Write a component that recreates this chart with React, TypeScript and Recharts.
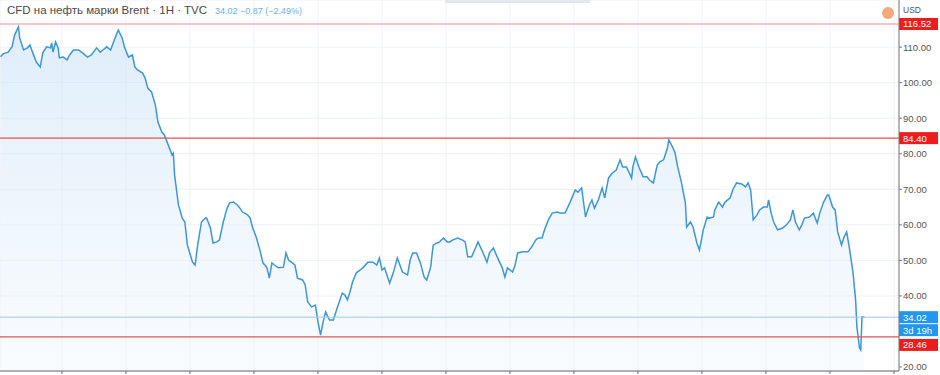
import React from "react";
import {
  ComposedChart,
  Area,
  XAxis,
  YAxis,
  CartesianGrid,
  ReferenceLine,
} from "recharts";

// time in fractional years
const times = [
  2013.52, 2013.54, 2013.58, 2013.61, 2013.63, 2013.66, 2013.67, 2013.7, 2013.73, 2013.75,
  2013.77, 2013.8, 2013.83, 2013.85, 2013.88, 2013.91, 2013.92, 2013.93, 2013.95, 2013.97,
  2013.98, 2014.01, 2014.04, 2014.06, 2014.09, 2014.13, 2014.16, 2014.2, 2014.23, 2014.27,
  2014.3, 2014.32, 2014.35, 2014.38, 2014.4, 2014.43, 2014.44, 2014.47, 2014.49, 2014.52,
  2014.55, 2014.57, 2014.59, 2014.63, 2014.65, 2014.67, 2014.7, 2014.73, 2014.75, 2014.78,
  2014.8, 2014.83, 2014.86, 2014.87, 2014.88, 2014.91, 2014.94, 2014.96, 2014.98, 2015.02,
  2015.04, 2015.06, 2015.09, 2015.12, 2015.13, 2015.16, 2015.18, 2015.21, 2015.23, 2015.26,
  2015.29, 2015.31, 2015.34, 2015.37, 2015.39, 2015.41, 2015.45, 2015.47, 2015.49, 2015.52,
  2015.55, 2015.57, 2015.6, 2015.62, 2015.64, 2015.66, 2015.69, 2015.73, 2015.75, 2015.77,
  2015.8, 2015.82, 2015.84, 2015.88, 2015.9, 2015.92, 2015.95, 2015.98, 2016.0, 2016.02,
  2016.04, 2016.06, 2016.09, 2016.12, 2016.15, 2016.19, 2016.21, 2016.23, 2016.25, 2016.27,
  2016.3, 2016.33, 2016.35, 2016.39, 2016.43, 2016.46, 2016.48, 2016.5, 2016.52, 2016.56,
  2016.59, 2016.62, 2016.64, 2016.66, 2016.7, 2016.72, 2016.74, 2016.77, 2016.8, 2016.83,
  2016.85, 2016.88, 2016.9, 2016.93, 2016.95, 2016.98, 2017.01, 2017.03, 2017.05, 2017.09,
  2017.13, 2017.15, 2017.17, 2017.2, 2017.23, 2017.25, 2017.28, 2017.32, 2017.34, 2017.37,
  2017.4, 2017.44, 2017.46, 2017.48, 2017.52, 2017.54, 2017.56, 2017.6, 2017.64, 2017.67,
  2017.7, 2017.72, 2017.75, 2017.77, 2017.8, 2017.83, 2017.87, 2017.89, 2017.93, 2017.97,
  2018.01, 2018.03, 2018.06, 2018.09, 2018.12, 2018.14, 2018.16, 2018.19, 2018.22, 2018.24,
  2018.27, 2018.3, 2018.33, 2018.36, 2018.38, 2018.41, 2018.45, 2018.46, 2018.48, 2018.51,
  2018.54, 2018.57, 2018.59, 2018.62, 2018.65, 2018.67, 2018.7, 2018.73, 2018.74, 2018.77,
  2018.79, 2018.81, 2018.84, 2018.87, 2018.88, 2018.91, 2018.93, 2018.96, 2018.98, 2019.01,
  2019.04, 2019.06, 2019.09, 2019.1, 2019.13, 2019.16, 2019.18, 2019.22, 2019.24, 2019.27,
  2019.31, 2019.34, 2019.36, 2019.38, 2019.4, 2019.43, 2019.45, 2019.48, 2019.51, 2019.52,
  2019.54, 2019.56, 2019.59, 2019.63, 2019.66, 2019.69, 2019.71, 2019.73, 2019.76, 2019.78,
  2019.8, 2019.84, 2019.87, 2019.9, 2019.92, 2019.95, 2019.98, 2019.99, 2020.02, 2020.04,
  2020.06, 2020.09, 2020.11, 2020.13, 2020.15, 2020.18, 2020.2, 2020.21, 2020.23, 2020.24,
  2020.25, 2020.27,
];

const prices = [
  107.3, 108.1, 108.6, 110.1, 113.4, 115.7, 112.6, 109.2, 109.8, 110.6,
  108.6, 105.8, 104.4, 108.4, 110.1, 109.8, 111.2, 108.6, 111.5, 109.8,
  107.0, 107.2, 106.4, 107.8, 109.2, 109.2, 108.4, 107.2, 107.8, 109.8,
  108.6, 109.2, 110.1, 109.2, 111.2, 114.0, 114.8, 112.6, 109.8, 107.2,
  107.8, 104.4, 103.6, 102.7, 101.3, 98.5, 97.4, 93.7, 88.9, 86.1,
  85.3, 82.5, 79.7, 80.2, 74.0, 65.6, 61.9, 60.8, 54.3, 49.5,
  48.7, 54.3, 60.8, 61.9, 61.9, 59.1, 54.9, 55.2, 55.7, 60.8,
  64.7, 66.2, 66.4, 65.6, 64.7, 63.6, 62.8, 61.9, 59.1, 56.3,
  52.4, 49.3, 48.1, 45.0, 49.3, 48.7, 47.9, 48.1, 52.1, 50.1,
  49.3, 48.7, 45.0, 44.5, 43.1, 38.3, 36.9, 37.4, 32.7, 29.0,
  32.7, 35.5, 33.2, 33.2, 36.6, 40.8, 40.3, 38.9, 41.1, 43.9,
  46.5, 47.3, 47.9, 49.5, 49.5, 48.7, 50.7, 47.3, 47.9, 43.6,
  46.7, 50.7, 48.7, 46.7, 45.9, 50.1, 52.1, 52.1, 49.3, 45.3,
  44.5, 48.1, 54.3, 54.9, 55.2, 56.3, 55.2, 55.2, 55.7, 56.3,
  55.7, 55.2, 51.0, 51.0, 53.5, 55.2, 52.9, 49.5, 52.1, 53.5,
  51.0, 47.9, 45.3, 47.9, 46.7, 48.7, 52.1, 52.4, 52.4, 53.8,
  55.7, 56.3, 56.3, 58.6, 61.4, 63.3, 63.6, 63.3, 63.3, 66.4,
  69.8, 69.2, 70.4, 62.2, 65.6, 67.0, 64.7, 67.0, 70.4, 67.6,
  73.2, 74.6, 75.4, 78.3, 76.3, 76.3, 73.2, 76.3, 79.1, 76.0,
  73.5, 73.5, 72.6, 71.8, 76.8, 77.7, 78.3, 81.6, 83.9, 81.9,
  80.2, 76.3, 71.8, 66.2, 59.4, 60.8, 59.4, 54.9, 52.9, 58.6,
  62.2, 61.9, 62.2, 64.2, 66.4, 65.0, 66.4, 67.6, 69.8, 71.8,
  71.5, 70.7, 71.8, 69.8, 61.4, 62.8, 64.2, 65.0, 65.0, 67.0,
  63.3, 60.8, 58.6, 59.1, 60.0, 61.4, 64.2, 60.8, 58.6, 60.0,
  61.9, 62.2, 63.3, 60.5, 63.3, 66.4, 68.4, 68.4, 65.0, 64.2,
  58.0, 54.3, 56.6, 58.0, 53.8, 46.5, 38.9, 31.3, 25.4, 24.8,
  34.1, 34.02,
];

const yTicks = [20, 40, 50, 60, 70, 80, 90, 100, 110];
const xTicks = [2014, 2014.5, 2015, 2015.5, 2016, 2016.5, 2017, 2017.5, 2018, 2018.5, 2019, 2019.5, 2020, 2020.5];

const redLevels = [116.52, 84.4, 28.46];
const lastPrice = 34.02;
const countdown = "3d 19h";

const data = times.map((t, i) => ({ t, price: prices[i] }));

const FONT = "'Liberation Sans', Arial, sans-serif";

// price tag drawn on the right scale; shift moves the box off its line when tags collide
const priceTag = (value: number, color: string, shift = 0, extra?: string) => (props: any) => {
  const vb = props.viewBox || {};
  const x = (vb.x || 0) + (vb.width || 0);
  const y = (vb.y || 0) + shift;
  return (
    <g>
      <rect x={x} y={y - 6} width={39} height={12} fill={color} />
      <text x={x + 4} y={y + 3.5} fill="#fff" fontSize={9.5} fontFamily={FONT}>
        {value.toFixed(2)}
      </text>
      {extra && (
        <g>
          <rect x={x} y={y + 7} width={39} height={12} fill={color} />
          <text x={x + 4} y={y + 16.5} fill="#fff" fontSize={9.5} fontFamily={FONT}>
            {extra}
          </text>
        </g>
      )}
    </g>
  );
};

export default function App() {
  return (
    <div style={{ position: "absolute", left: 0, top: 0, width: 940, height: 375, background: "#fff", overflow: "hidden" }}>
      <ComposedChart
        width={940}
        height={375}
        data={data}
        margin={{ top: 0, right: 0, bottom: 0, left: 0 }}
      >
        <defs>
          <linearGradient id="fillBlue" x1="0" y1="0" x2="0" y2="1">
            <stop offset="0%" stopColor="#c6e0f6" stopOpacity={0.95} />
            <stop offset="100%" stopColor="#eef6fd" stopOpacity={0.6} />
          </linearGradient>
        </defs>
        <CartesianGrid stroke="#eef1f6" />
        <XAxis
          dataKey="t"
          type="number"
          domain={[2013.516, 2020.539]}
          ticks={xTicks}
          allowDataOverflow
          height={4}
          tickSize={3}
          tickFormatter={() => ""}
          axisLine={{ stroke: "#666" }}
          tickLine={{ stroke: "#666" }}
        />
        <YAxis
          orientation="right"
          type="number"
          domain={[18.87, 123.27]}
          allowDataOverflow
          ticks={yTicks}
          width={41}
          tickSize={3}
          tickMargin={1}
          tickFormatter={(v: number) => v.toFixed(2)}
          axisLine={{ stroke: "#777" }}
          tickLine={{ stroke: "#777" }}
          tick={{ fontSize: 9.5, fill: "#555", fontFamily: FONT, textAnchor: "start" }}
        />
        <Area
          type="linear"
          dataKey="price"
          stroke="#3d96dc"
          strokeWidth={1.5}
          strokeLinecap="butt"
          fill="url(#fillBlue)"
          isAnimationActive={false}
          dot={false}
          activeDot={false}
        />
        <ReferenceLine
          y={lastPrice}
          stroke="#9fc9ee"
          strokeWidth={1}
          label={priceTag(lastPrice, "#2196f3", 0, countdown)}
        />
        {redLevels.map((lv) => (
          <ReferenceLine
            key={lv}
            y={lv}
            stroke={lv > 100 ? "#ef8f8f" : "#e05353"}
            strokeWidth={1.2}
            label={priceTag(lv, "#ee1c1c", lv < 30 ? 8 : 0)}
          />
        ))}
      </ComposedChart>
      <div
        style={{
          position: "absolute",
          left: 7,
          top: 4,
          fontFamily: FONT,
          fontSize: 11.5,
          color: "#4a4a4a",
          whiteSpace: "nowrap",
        }}
      >
        CFD на нефть марки Brent · 1H · TVC
        <span style={{ color: "#6fb0e6", fontSize: 9, marginLeft: 8 }}>34.02 −0.87 (−2.49%)</span>
      </div>
      <div style={{ position: "absolute", left: 445, top: 0, width: 145, height: 3, background: "#e4e7ee" }} />
      <div
        style={{
          position: "absolute",
          left: 903,
          top: 5,
          fontFamily: FONT,
          fontSize: 8.5,
          color: "#555",
        }}
      >
        USD
      </div>
      <div
        style={{
          position: "absolute",
          left: 882,
          top: 7,
          width: 12,
          height: 12,
          borderRadius: 6,
          background: "#f6a97c",
        }}
      />
    </div>
  );
}
